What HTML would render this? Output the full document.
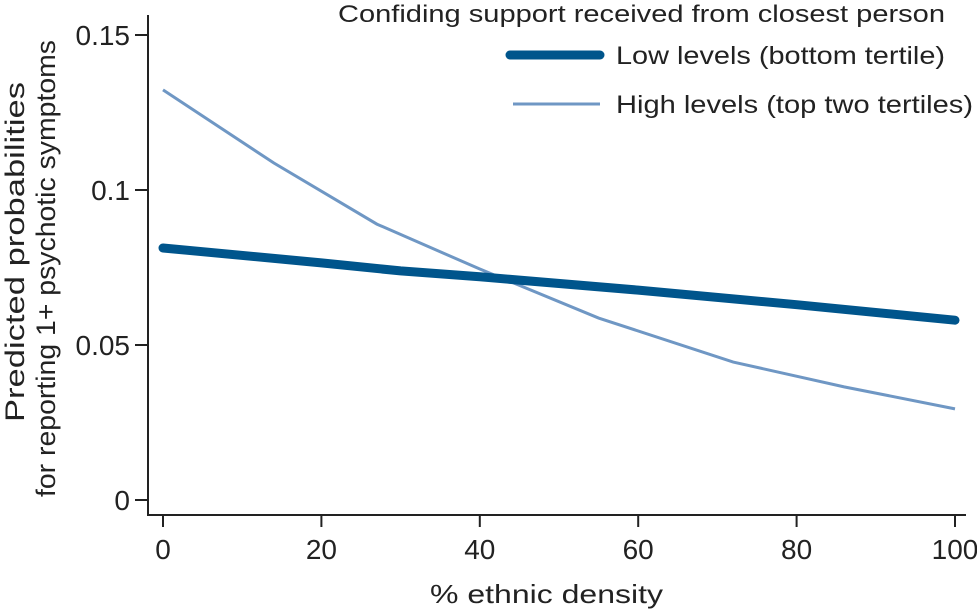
<!DOCTYPE html>
<html><head><meta charset="utf-8"><style>
body{margin:0;background:#fff;}
svg text{font-family:"Liberation Sans",sans-serif;fill:#222;}
</style></head><body>
<svg id="chart" width="977" height="610">
<g id="axes"></g><g id="series"></g>
<text x="338" y="22" font-size="24" textLength="607" lengthAdjust="spacingAndGlyphs">Confiding support received from closest person</text>
<line x1="510" y1="55" x2="600" y2="55" stroke="#00558c" stroke-width="9" stroke-linecap="round"/>
<text x="616" y="64" font-size="25" textLength="329" lengthAdjust="spacingAndGlyphs">Low levels (bottom tertile)</text>
<line x1="513" y1="104" x2="600" y2="104" stroke="#6f97c4" stroke-width="3"/>
<text x="616" y="113" font-size="25" textLength="357" lengthAdjust="spacingAndGlyphs">High levels (top two tertiles)</text>
<text x="430" y="603" font-size="26" textLength="233" lengthAdjust="spacingAndGlyphs">% ethnic density</text>
<text transform="translate(24,422) rotate(-90)" font-size="27" textLength="340" lengthAdjust="spacingAndGlyphs">Predicted probabilities</text>
<text transform="translate(55,497) rotate(-90)" font-size="27" textLength="457" lengthAdjust="spacingAndGlyphs">for reporting 1+ psychotic symptoms</text>
</svg>
<script>
const xTicks=[0,20,40,60,80,100];
const yTicks=[0,0.05,0.1,0.15];
const yTickLabels=["0","0.05","0.1","0.15"];
const lowX=[0,20,30,40,60,80,100];
const lowY=[0.0813,0.0765,0.0739,0.072,0.0677,0.063,0.058];
const highX=[0,14,27,40,55,72,86,100];
const highY=[0.1323,0.1087,0.089,0.0745,0.0587,0.0445,0.0365,0.0294];
const sx=v=>163+v*7.92;
const sy=v=>500-v*3100;
const NS="http://www.w3.org/2000/svg";
const axes=document.getElementById('axes'),ser=document.getElementById('series');
function mk(tag,attrs,parent){const e=document.createElementNS(NS,tag);for(const k in attrs)e.setAttribute(k,attrs[k]);parent.appendChild(e);return e;}
const ya=mk('line',{x1:148,y1:15,x2:148,y2:515,stroke:'#222','stroke-width':2},axes);


const xa=mk('line',{x1:147,y1:515,x2:966,y2:515,stroke:'#222','stroke-width':2},axes);


xTicks.forEach(t=>{
 const l=mk('line',{x1:sx(t),y1:515,x2:sx(t),y2:527,stroke:'#222','stroke-width':2},axes);
 
 
 const tx=mk('text',{x:sx(t),y:559,'font-size':28,'text-anchor':'middle'},axes);tx.textContent=t;
 
 
});
yTicks.forEach((t,i)=>{
 const l=mk('line',{x1:135,y1:sy(t),x2:148,y2:sy(t),stroke:'#222','stroke-width':2},axes);
 
 
 const tx=mk('text',{x:130,y:sy(t)+10,'font-size':28,'text-anchor':'end'},axes);tx.textContent=yTickLabels[i];
 
 
});
function pts(xs,ys){return xs.map((x,i)=>sx(x)+','+sy(ys[i])).join(' ');}
const hl=mk('polyline',{points:pts(highX,highY),fill:'none',stroke:'#6f97c4','stroke-width':3},ser);


const ll=mk('polyline',{points:pts(lowX,lowY),fill:'none',stroke:'#00558c','stroke-width':9,'stroke-linecap':'round','stroke-linejoin':'round'},ser);


</script>
</body></html>
